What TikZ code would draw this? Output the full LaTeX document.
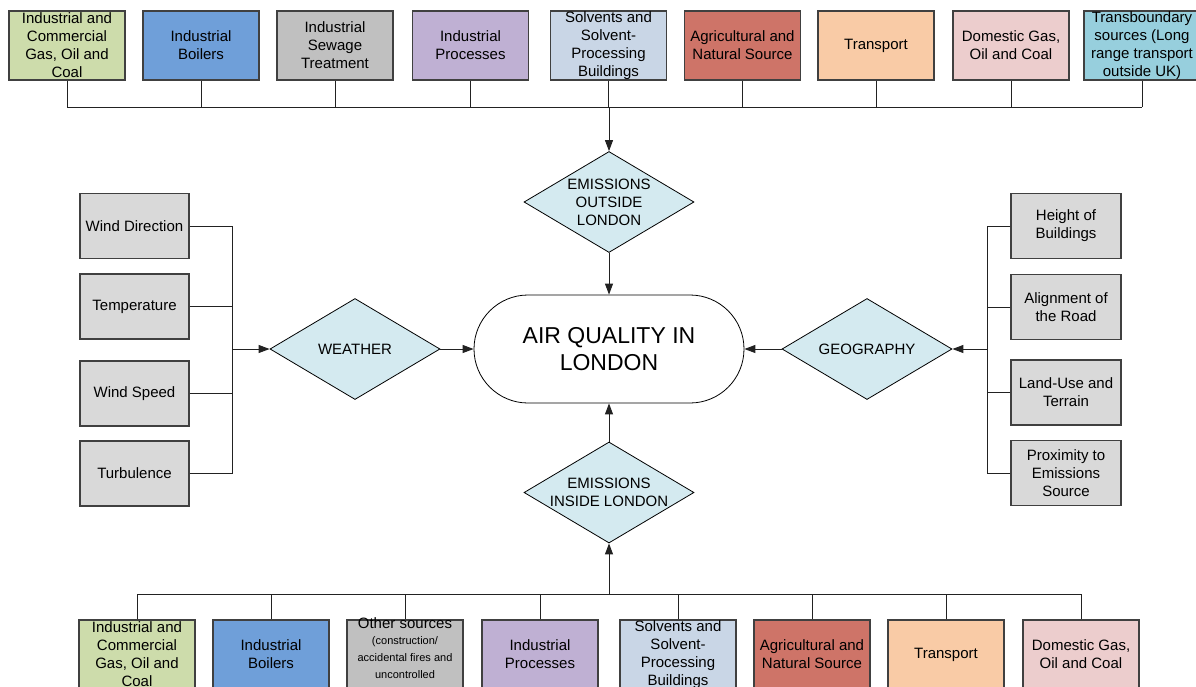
\documentclass[tikz,border=0pt]{standalone}
\usepackage{fontspec}
\setmainfont{Liberation Sans}
\usetikzlibrary{arrows.meta,shapes.geometric}
\definecolor{boxline}{HTML}{404040}
\definecolor{linec}{HTML}{222222}
\definecolor{facgray}{HTML}{D9D9D9}
\definecolor{diafill}{HTML}{D4EAF0}
\definecolor{cgreen}{HTML}{CDDCAB}
\definecolor{cblue}{HTML}{6F9FD9}
\definecolor{cgray}{HTML}{C0C0C0}
\definecolor{cpurple}{HTML}{BFB0D3}
\definecolor{csteel}{HTML}{C9D6E6}
\definecolor{cred}{HTML}{CE7468}
\definecolor{cpeach}{HTML}{F9CBA6}
\definecolor{cpink}{HTML}{ECCDCD}
\definecolor{ccyan}{HTML}{97CFDD}
\begin{document}
\begin{tikzpicture}[x=1pt,y=-1pt,
  src/.style={draw=boxline, line width=1.2pt, minimum width=116pt, minimum height=69pt, inner sep=0pt},
  fac/.style={draw=boxline, line width=1.2pt, fill=facgray, minimum width=109pt, minimum height=65pt, inner sep=0pt},
  dia/.style={diamond, draw=black, line width=0.8pt, fill=diafill, minimum width=170pt, minimum height=101pt, inner sep=0pt},
  lbl/.style={align=center, font=\fontsize{15}{18}\selectfont, inner sep=0pt},
  conn/.style={draw=linec, line width=1pt},
  arr/.style={conn, -{Triangle[length=11pt,width=8pt]}}
]
\useasboundingbox (0,0) rectangle (1196,686);

% ---------- top sources ----------
\node[src, fill=cgreen]  (t1) at (67,45.5) {};
\node[src, fill=cblue]   (t2) at (201,45.5) {};
\node[src, fill=cgray]   (t3) at (335,45.5) {};
\node[src, fill=cpurple] (t4) at (470.5,45.5) {};
\node[src, fill=csteel]  (t5) at (608.5,45.5) {};
\node[src, fill=cred]    (t6) at (742.5,45.5) {};
\node[src, fill=cpeach]  (t7) at (876,45.5) {};
\node[src, fill=cpink]   (t8) at (1011,45.5) {};
\node[src, fill=ccyan]   (t9) at (1142,45.5) {};
\node[lbl] (t1x) at (t1) {Industrial and\\Commercial\\Gas, Oil and\\Coal};
\node[lbl] (t2x) at (t2) {Industrial\\Boilers};
\node[lbl] (t3x) at (t3) {Industrial\\Sewage\\Treatment};
\node[lbl] (t4x) at (t4) {Industrial\\Processes};
\node[lbl] (t5x) at (t5) {Solvents and\\Solvent-\\Processing\\Buildings};
\node[lbl] (t6x) at (t6) {Agricultural and\\Natural Source};
\node[lbl] (t7x) at (t7) {Transport};
\node[lbl] (t8x) at (t8) {Domestic Gas,\\Oil and Coal};
\node[lbl] (t9x) at (t9) {Transboundary\\sources (Long\\range transport\\outside UK)};

\coordinate (tbus) at (609,107);
\foreach \i in {1,...,9} {\draw[conn] (t\i.south) -- (t\i.south |- tbus);}
\draw[conn] (t1.south |- tbus) -- (t9.south |- tbus);

% ---------- centre ----------
\node[dia] (eo) at (609,202) {};
\node[lbl] (eox) at (eo) {EMISSIONS\\OUTSIDE\\LONDON};
\node[draw=black, line width=0.8pt, rounded corners=54pt, minimum width=270pt, minimum height=108pt, inner sep=0pt] (aq) at (609,349) {};
\node[align=center, inner sep=0pt, font=\fontsize{23}{27}\selectfont] (aqx) at (aq) {AIR QUALITY IN\\LONDON};
\node[dia] (ei) at (609,492.5) {};
\node[lbl] (eix) at (ei) {EMISSIONS\\INSIDE LONDON};
\node[dia] (w) at (355,349) {};
\node[lbl] (wx) at (w) {WEATHER};
\node[dia] (g) at (867,349) {};
\node[lbl] (gx) at (g) {GEOGRAPHY};

\draw[arr] (tbus) -- (eo.north);
\draw[arr] (eo.south) -- (aq.north);
\draw[arr] (ei.north) -- (aq.south);
\draw[arr] (w.east) -- (aq.west);
\draw[arr] (g.west) -- (aq.east);

% ---------- weather factors ----------
\node[fac] (l1) at (134.5,226) {};
\node[fac] (l2) at (134.5,306.5) {};
\node[fac] (l3) at (134.5,393.5) {};
\node[fac] (l4) at (134.5,473.5) {};
\node[lbl] (l1x) at (l1) {Wind Direction};
\node[lbl] (l2x) at (l2) {Temperature};
\node[lbl] (l3x) at (l3) {Wind Speed};
\node[lbl] (l4x) at (l4) {Turbulence};
\coordinate (lv) at (232,349);
\foreach \i in {1,...,4} {\draw[conn] (l\i.east) -- (l\i.east -| lv);}
\draw[conn] (l1.east -| lv) -- (l4.east -| lv);
\draw[arr] (lv) -- (w.west);

% ---------- geography factors ----------
\node[fac, minimum width=110pt] (r1) at (1066,226) {};
\node[fac, minimum width=110pt] (r2) at (1066,307) {};
\node[fac, minimum width=110pt] (r3) at (1066,392.5) {};
\node[fac, minimum width=110pt] (r4) at (1066,473) {};
\node[lbl] (r1x) at (r1) {Height of\\Buildings};
\node[lbl] (r2x) at (r2) {Alignment of\\the Road};
\node[lbl] (r3x) at (r3) {Land-Use and\\Terrain};
\node[lbl] (r4x) at (r4) {Proximity to\\Emissions\\Source};
\coordinate (rv) at (987,349);
\foreach \i in {1,...,4} {\draw[conn] (r\i.west) -- (r\i.west -| rv);}
\draw[conn] (r1.west -| rv) -- (r4.west -| rv);
\draw[arr] (rv) -- (g.east);

% ---------- bottom sources ----------
\node[src, fill=cgreen]  (b1) at (137,654.5) {};
\node[src, fill=cblue]   (b2) at (271,654.5) {};
\node[src, fill=cgray]   (b3) at (405,654.5) {};
\node[src, fill=cpurple] (b4) at (540,654.5) {};
\node[src, fill=csteel]  (b5) at (678,654.5) {};
\node[src, fill=cred]    (b6) at (812,654.5) {};
\node[src, fill=cpeach]  (b7) at (946,654.5) {};
\node[src, fill=cpink]   (b8) at (1081,654.5) {};
\node[lbl] (b1x) at (b1) {Industrial and\\Commercial\\Gas, Oil and\\Coal};
\node[lbl] (b2x) at (b2) {Industrial\\Boilers};
\node[lbl, anchor=north] (b3x) at (405,617) {Other sources\\[-2pt]{\fontsize{11}{15}\selectfont (construction/}\\[-1pt]{\fontsize{11}{15}\selectfont accidental fires and}\\[-1pt]{\fontsize{11}{15}\selectfont uncontrolled}\\[-1pt]{\fontsize{11}{15}\selectfont emissions)}};
\node[lbl] (b4x) at (b4) {Industrial\\Processes};
\node[lbl] (b5x) at (b5) {Solvents and\\Solvent-\\Processing\\Buildings};
\node[lbl] (b6x) at (b6) {Agricultural and\\Natural Source};
\node[lbl] (b7x) at (b7) {Transport};
\node[lbl] (b8x) at (b8) {Domestic Gas,\\Oil and Coal};

\coordinate (bbus) at (609,594);
\foreach \i in {1,...,8} {\draw[conn] (b\i.north) -- (b\i.north |- bbus);}
\draw[conn] (b1.north |- bbus) -- (b8.north |- bbus);
\draw[arr] (bbus) -- (ei.south);
\end{tikzpicture}
\end{document}
